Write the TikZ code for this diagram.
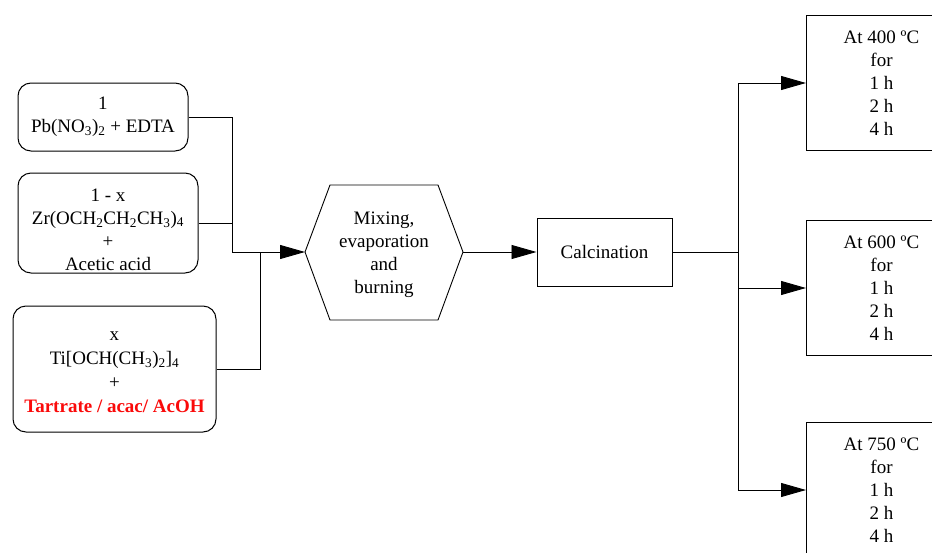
\documentclass[tikz,border=0pt]{standalone}
\usepackage{fontspec}
\setmainfont{Liberation Serif}
\usetikzlibrary{arrows.meta}
\definecolor{ligandred}{RGB}{250,10,10}

\begin{document}
\begin{tikzpicture}[x=1pt,y=-1pt,
  font=\fontsize{19}{23}\selectfont,
  line width=0.9pt,
  flow/.style={-{Triangle[length=25pt,width=14pt]}},
  reagent/.style={draw,line width=1pt,rounded corners=13pt,align=center,inner sep=0pt},
  stepbox/.style={draw,line width=1pt,align=center,inner sep=0pt},
  label text/.style={align=center,inner sep=0pt},
  tempbox/.style={draw,line width=1pt,align=center,inner sep=0pt,anchor=north west,
    minimum width=150pt,minimum height=135pt}]
\useasboundingbox (0,0) rectangle (932,552);
\clip (0,0) rectangle (932,552);

% precursor solutions
\node[reagent,minimum width=170pt,minimum height=68pt] (pb) at (103,117)
  {1\\Pb(NO\textsubscript{3})\textsubscript{2} + EDTA};
\node[reagent,minimum width=180pt,minimum height=100pt] (zr) at (108,223) {};
\node[label text] (zrtext) at (108,229.5)
  {1 - x\\Zr(OCH\textsubscript{2}CH\textsubscript{2}CH\textsubscript{3})\textsubscript{4}\\+\\Acetic acid};
\node[reagent,minimum width=203pt,minimum height=126pt] (ti) at (114.5,369) {};
\node[label text,font=\fontsize{19}{24}\selectfont] (titext) at (114.5,372)
  {x\\Ti[OCH(CH\textsubscript{3})\textsubscript{2}]\textsubscript{4}\\+\\\textcolor{ligandred}{\bfseries Tartrate / acac/ AcOH}};

% mixing step (hexagon)
\draw (305,252) -- (330,185) -- (438,185) -- (463,252) -- (438,320) -- (330,320) -- cycle;
\node[label text] (mix) at (384,255) {Mixing,\\evaporation\\and\\burning};
\coordinate (mixW) at (305,252);
\coordinate (mixE) at (463,252);

% calcination
\node[stepbox,minimum width=135pt,minimum height=68pt] (calc) at (604.5,252) {Calcination};

% heat treatments
\node[tempbox] (t400) at (806,15)
  {At 400 ºC\\for\\1 h\\2 h\\4 h\hspace{42pt}};
\node[tempbox] (t600) at (806,220)
  {At 600 ºC\\for\\1 h\\2 h\\4 h\hspace{42pt}};
\node[tempbox] (t750) at (806,422)
  {At 750 ºC\\for\\1 h\\2 h\\4 h\hspace{42pt}};

% joints of the connectors
\coordinate (j1) at (232,252);
\coordinate (j2) at (260,252);
\coordinate (fork) at (738,252);

\draw (pb.east) -| (j1);
\draw (zr.east) -- (zr.east -| j1);
\draw (ti.east) -| (j2);
\draw[flow] (j1) -- (mixW);
\draw[flow] (mixE) -- (calc.west);
\draw (calc.east) -- (fork);
\draw (t400.west -| fork) -- (t750.west -| fork);
\draw[flow] (t400.west -| fork) -- (t400.west);
\draw[flow] (t600.west -| fork) -- (t600.west);
\draw[flow] (t750.west -| fork) -- (t750.west);
\end{tikzpicture}
\end{document}
